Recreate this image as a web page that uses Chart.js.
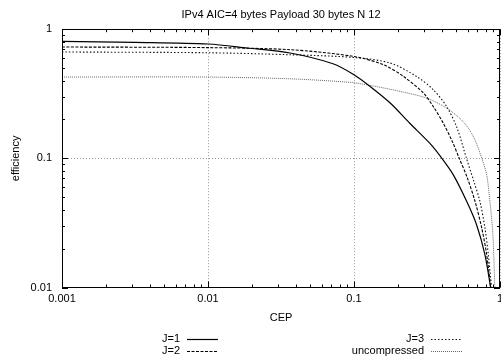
<!DOCTYPE html>
<html>
<head>
<meta charset="utf-8">
<script src="https://cdn.jsdelivr.net/npm/chart.js@4/dist/chart.umd.min.js"></script>
<style>
  html, body { margin: 0; padding: 0; background: #fff; }
  #wrap { width: 501px; height: 358px; }
</style>
</head>
<body>
<div id="wrap"><canvas id="chart" width="501" height="358"></canvas></div>
<script>
// Data (CEP vs efficiency)
const j1Cep = [0.001, 0.00316, 0.01, 0.0185, 0.0365, 0.0718, 0.1, 0.129, 0.177, 0.241, 0.330, 0.399, 0.479, 0.592, 0.692, 0.789, 0.865];
const j1Eff = [0.804, 0.791, 0.768, 0.715, 0.654, 0.540, 0.444, 0.360, 0.268, 0.187, 0.131, 0.1004, 0.0745, 0.0463, 0.0305, 0.0179, 0.0098];

const j2Cep = [0.001, 0.01, 0.0365, 0.1, 0.159, 0.218, 0.299, 0.349, 0.409, 0.469, 0.526, 0.594, 0.675, 0.750, 0.811, 0.865];
const j2Eff = [0.728, 0.720, 0.694, 0.615, 0.531, 0.431, 0.320, 0.252, 0.187, 0.1367, 0.100, 0.0719, 0.0463, 0.0288, 0.0179, 0.0098];

const j3Cep = [0.001, 0.01, 0.0365, 0.1, 0.177, 0.268, 0.349, 0.431, 0.508, 0.589, 0.664, 0.729, 0.789, 0.832, 0.877];
const j3Eff = [0.666, 0.657, 0.634, 0.604, 0.547, 0.431, 0.340, 0.252, 0.172, 0.100, 0.0657, 0.0463, 0.0288, 0.0179, 0.0098];

const unCep = [0.001, 0.01, 0.0365, 0.095, 0.129, 0.207, 0.313, 0.431, 0.558, 0.656, 0.750, 0.811, 0.853, 0.888, 0.906, 0.922];
const unEff = [0.426, 0.426, 0.413, 0.387, 0.367, 0.330, 0.293, 0.245, 0.193, 0.148, 0.1004, 0.0745, 0.0463, 0.0288, 0.0179, 0.0098];

const xTicks = [0.001, 0.01, 0.1, 1];
const xTickLabels = ['0.001', '0.01', '0.1', '1'];
const yTicks = [0.01, 0.1, 1];
const yTickLabels = ['0.01', '0.1', '1'];

const FONT = '"Liberation Sans", Helvetica, Arial, sans-serif';

function pts(xs, ys) {
    return xs.map((x, i) => ({x: x, y: ys[i]}));
}

function labelFor(ticks, labels, v) {
    const i = ticks.findIndex(t => Math.abs(Math.log10(t) - Math.log10(v)) < 1e-6);
    return i >= 0 ? labels[i] : '';
}

// gnuplot-like frame: full border, inner ticks, and the key below
const framePlugin = {
    id: 'frame',
    afterDraw(chart) {
        const {ctx, chartArea: a, scales} = chart;
        ctx.save();
        ctx.strokeStyle = '#000';
        ctx.lineWidth = 1;
        ctx.setLineDash([]);
        ctx.strokeRect(Math.round(a.left) + 0.5, Math.round(a.top) + 0.5,
            Math.round(a.right - a.left) - 1, Math.round(a.bottom - a.top));

        ctx.beginPath();
        for (let d = -3; d <= 0; d++) {
            for (let k = 1; k <= 9; k++) {
                const v = k * Math.pow(10, d);
                if (v > 1.0001) break;
                const px = Math.round(scales.x.getPixelForValue(v)) + 0.5;
                const len = k === 1 ? 6 : 3;
                ctx.moveTo(px, a.bottom); ctx.lineTo(px, a.bottom - len);
                ctx.moveTo(px, a.top); ctx.lineTo(px, a.top + len);
            }
        }
        for (let d = -2; d <= 0; d++) {
            for (let k = 1; k <= 9; k++) {
                const v = k * Math.pow(10, d);
                if (v > 1.0001) break;
                const py = Math.round(scales.y.getPixelForValue(v)) + 0.5;
                const len = k === 1 ? 6 : 3;
                ctx.moveTo(a.left, py); ctx.lineTo(a.left + len, py);
                ctx.moveTo(a.right, py); ctx.lineTo(a.right - len, py);
            }
        }
        ctx.stroke();

        // key
        const slots = [
            {tx: 180, y: 339}, {tx: 180, y: 351},
            {tx: 424, y: 339}, {tx: 424, y: 351}
        ];
        ctx.font = '11px ' + FONT;
        ctx.textAlign = 'right';
        ctx.textBaseline = 'middle';
        chart.data.datasets.forEach((ds, i) => {
            const s = slots[i];
            ctx.fillStyle = '#000';
            ctx.fillText(ds.label, s.tx, s.y);
            ctx.beginPath();
            ctx.strokeStyle = ds.borderColor;
            ctx.lineWidth = ds.borderWidth;
            ctx.setLineDash(ds.borderDash || []);
            ctx.moveTo(s.tx + 7, s.y + 0.5);
            ctx.lineTo(s.tx + 38, s.y + 0.5);
            ctx.stroke();
        });
        ctx.restore();
    }
};

new Chart(document.getElementById('chart'), {
    type: 'line',
    data: {
        datasets: [
            {label: 'J=1', data: pts(j1Cep, j1Eff), borderColor: '#000', borderWidth: 1.2, borderDash: []},
            {label: 'J=2', data: pts(j2Cep, j2Eff), borderColor: '#000', borderWidth: 1.1, borderDash: [3, 1.5]},
            {label: 'J=3', data: pts(j3Cep, j3Eff), borderColor: '#111', borderWidth: 1.1, borderDash: [1.5, 2]},
            {label: 'uncompressed', data: pts(unCep, unEff), borderColor: '#666', borderWidth: 1, borderDash: [1, 1]}
        ]
    },
    options: {
        responsive: false,
        animation: false,
        events: [],
        layout: {padding: {left: 0, right: 1, top: 0, bottom: 33.5}},
        elements: {
            point: {radius: 0},
            line: {fill: false, tension: 0.3}
        },
        plugins: {
            legend: {display: false},
            tooltip: {enabled: false},
            title: {
                display: true,
                text: 'IPv4 AIC=4 bytes Payload 30 bytes N 12',
                fullSize: false,
                color: '#000',
                font: {family: FONT, size: 11, weight: 'normal'},
                padding: {top: 8, bottom: 8}
            }
        },
        scales: {
            x: {
                type: 'logarithmic',
                min: 0.001,
                max: 1,
                afterBuildTicks: s => { s.ticks = xTicks.map(v => ({value: v})); },
                afterFit: s => { s.height = 37; s.paddingLeft = 0; s.paddingRight = 0; },
                grid: {color: '#999', drawTicks: false, lineWidth: 1},
                border: {display: false, dash: [1, 2]},
                ticks: {
                    color: '#000',
                    padding: 5,
                    maxRotation: 0,
                    autoSkip: false,
                    font: {family: FONT, size: 11},
                    callback: v => labelFor(xTicks, xTickLabels, v)
                },
                title: {
                    display: true,
                    text: 'CEP',
                    color: '#000',
                    font: {family: FONT, size: 11},
                    padding: {top: 0, bottom: 0}
                }
            },
            y: {
                type: 'logarithmic',
                min: 0.01,
                max: 1,
                afterBuildTicks: s => { s.ticks = yTicks.map(v => ({value: v})); },
                afterFit: s => { s.width = 62; },
                grid: {color: '#999', drawTicks: false, lineWidth: 1},
                border: {display: false, dash: [1, 2]},
                ticks: {
                    color: '#000',
                    padding: 10,
                    autoSkip: false,
                    font: {family: FONT, size: 11},
                    callback: v => labelFor(yTicks, yTickLabels, v)
                },
                title: {
                    display: true,
                    text: 'efficiency',
                    color: '#000',
                    font: {family: FONT, size: 11},
                    padding: {top: 9, bottom: 0}
                }
            }
        }
    },
    plugins: [framePlugin]
});
</script>
</body>
</html>
